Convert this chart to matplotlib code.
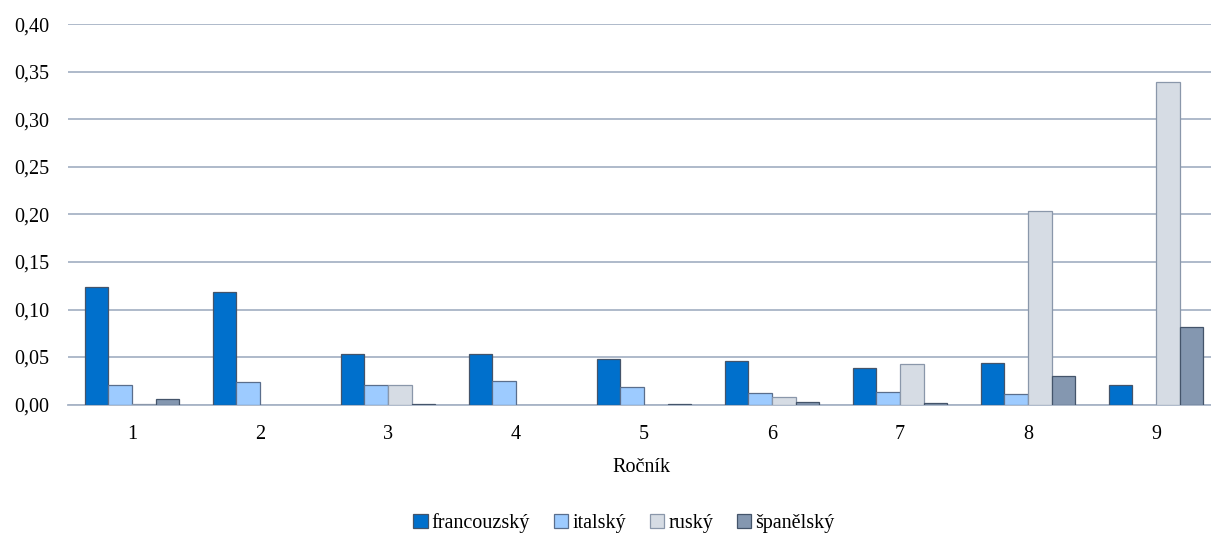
import numpy as np
import matplotlib
matplotlib.use("Agg")
import matplotlib.pyplot as plt
from matplotlib.patches import Patch

plt.rcParams['font.family'] = ['Liberation Serif', 'DejaVu Serif']

rocnik = ['1', '2', '3', '4', '5', '6', '7', '8', '9']
francouzsky = [0.124, 0.118, 0.053, 0.053, 0.048, 0.046, 0.038, 0.044, 0.021]
italsky = [0.021, 0.024, 0.021, 0.025, 0.018, 0.012, 0.013, 0.011, 0.0]
rusky = [0.001, 0.0, 0.021, 0.0, 0.0, 0.008, 0.043, 0.204, 0.339]
spanelsky = [0.006, 0.0, 0.001, 0.0, 0.001, 0.003, 0.0015, 0.030, 0.082]

jazyky = ['francouzský', 'italský', 'ruský', 'španělský']
barvy = ['#0070CC', '#9DCBFF', '#D6DCE4', '#8497B0']
okraje = ['#44546A', '#5A6E8C', '#8A97AA', '#44546A']
serie = [francouzsky, italsky, rusky, spanelsky]

fig = plt.figure(figsize=(12.11, 5.36), dpi=100)
ax = fig.add_axes([68 / 1211, 131.5 / 536, 1 - 68 / 1211, 380 / 536])

x = np.arange(len(rocnik))
w = 0.184
for i, (vals, c, e) in enumerate(zip(serie, barvy, okraje)):
    vals = np.array(vals)
    m = vals > 0  # nulove hodnoty se nekresli
    ax.bar(x[m] + (i - 1.5) * w, vals[m], width=w, color=c,
           edgecolor=e, linewidth=0.9, zorder=3)

ax.set_ylim(0, 0.40)
ax.set_xlim(-0.5, 8.43)
yt = np.arange(0, 0.401, 0.05)
ax.set_yticks(yt)
ax.set_yticklabels([f"{v:.2f}".replace('.', ',') for v in yt])
ax.set_xticks(x)
ax.set_xticklabels(rocnik)
ax.tick_params(axis='both', length=0, labelsize=14.5, colors='black')
ax.tick_params(axis='y', pad=13.5)
ax.tick_params(axis='x', pad=15)

ax.grid(axis='y', color='#A8B4C6', linewidth=1.3, zorder=0)
for s in ['top', 'right', 'left']:
    ax.spines[s].set_visible(False)
ax.spines['bottom'].set_color('#A8B4C6')
ax.spines['bottom'].set_linewidth(1.3)

ax.set_xlabel('Ročník', fontsize=14.5)
ax.xaxis.set_label_coords(573 / 1143, -62.5 / 380)
ax.xaxis.label.set_va('center')

handles = [Patch(facecolor=c, edgecolor=e, linewidth=0.9) for c, e in zip(barvy, okraje)]
fig.legend(handles, jazyky, loc='center', bbox_to_anchor=(624 / 1211, 13 / 536),
           ncol=4, frameon=False, fontsize=14.5, handlelength=0.7, handleheight=0.7,
           handletextpad=0.2, columnspacing=1.2)

fig.savefig('out.png', dpi=100)
